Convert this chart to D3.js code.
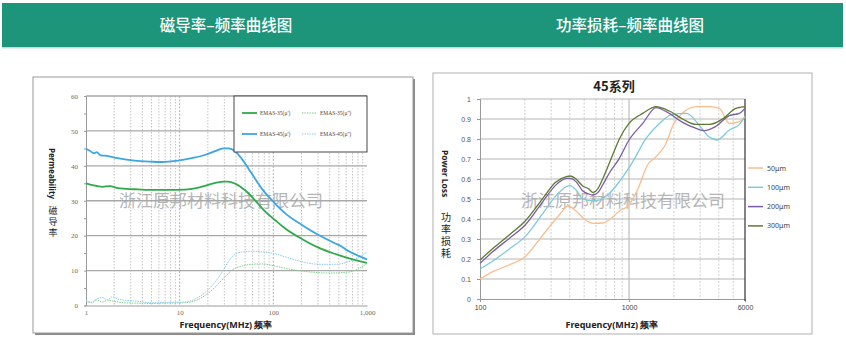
<!DOCTYPE html>
<html><head><meta charset="utf-8">
<script src="https://cdn.jsdelivr.net/npm/d3@7/dist/d3.min.js"></script>
<style>
html,body{margin:0;padding:0;background:#fff;}
svg{display:block;font-family:"Noto Sans","DejaVu Sans",sans-serif;}
</style></head>
<body>
<svg id="c" width="846" height="339"></svg>
<script>
// ---------- DATA: permeability chart ----------
const leftTitle = "磁导率–频率曲线图";
const rightTitle = "功率损耗–频率曲线图";
const watermark = "浙江原邦材料科技有限公司";

const permYTicks = [0,10,20,30,40,50,60];
const permXTicks = [1,10,100,1000];
const permSeriesNames = ["EMAS-35(μ')","EMAS-35(μ'')","EMAS-45(μ')","EMAS-45(μ'')"];

const emas45ReFreq = [1,1.1,1.22,1.3,1.44,1.6,2.17,3.28,4.96,6.36,9.6,13.4,18.6,23.8,29.3,33.1,39.1,46.1,59,75.7,96.9,135,204,308,465,520,596,703,1000];
const emas45Re     = [44.9,44.3,43.6,43.9,43.0,42.9,42.2,41.5,41.2,41.1,41.5,42.2,43.1,44.2,45.0,45.0,44.2,42.0,37.7,33.4,30.1,26.3,23.0,20.1,17.7,17.1,16.0,15.0,13.2];

const emas35ReFreq = [1,1.2,1.5,1.8,2.2,3.3,5,7.5,11.3,15,21,29.3,33.1,39.1,50,64,81,105,135,204,308,465,703,1000];
const emas35Re     = [35.0,34.4,34.0,34.2,33.6,33.3,33.1,33.1,33.2,33.6,34.7,35.5,35.5,34.9,33.0,30.1,27.0,24.4,22.0,19.0,16.5,14.7,13.2,12.2];

const emas35ImFreq = [1,1.15,1.3,1.5,1.7,2,2.5,3.3,5,7.5,11.3,15,19,24,30,36,46,59,78,100,150,250,400,600,800,1000];
const emas35Im     = [1.2,0.8,1.6,1.0,1.5,1.2,0.8,0.7,0.6,0.7,0.8,1.5,3.0,5.3,8.0,10.1,11.3,11.8,11.9,11.4,10.4,9.6,9.3,9.5,10.4,12.0];

const emas45ImFreq = [1,1.15,1.3,1.5,1.7,1.9,2.2,2.6,3.3,5,7.5,11.3,15,19,24,30,36,46,59,76,97,135,204,308,465,703,1000];
const emas45Im     = [1.4,1.0,1.9,2.3,1.6,2.5,1.8,1.5,1.3,0.8,0.9,1.0,2.0,3.9,6.8,10.6,13.9,15.3,15.5,15.4,15.0,13.9,12.5,11.8,11.8,13.0,15.3];

// ---------- DATA: power loss chart ----------
const lossTitle = "45系列";
const lossYTicks = [0,0.1,0.2,0.3,0.4,0.5,0.6,0.7,0.8,0.9,1];
const lossXTicks = [100,1000,6000];
const lossSeriesNames = ["50μm","100μm","200μm","300μm"];

const loss300Freq = [100,122,157,201,264,320,380,402,441,489,538,570,620,665,738,806,861,1000,1236,1518,1862,2289,2818,3460,4300,5200,6000];
const loss300     = [0.195,0.253,0.32,0.39,0.503,0.583,0.612,0.615,0.60,0.565,0.55,0.533,0.553,0.60,0.68,0.75,0.80,0.878,0.928,0.962,0.94,0.90,0.873,0.873,0.903,0.953,0.962];

const loss200Freq = [100,122,157,201,264,320,380,402,441,489,538,570,620,665,738,861,1000,1236,1518,1862,2289,2818,3200,3800,4710,5500,6000];
const loss200     = [0.178,0.237,0.303,0.37,0.487,0.567,0.603,0.603,0.587,0.54,0.525,0.52,0.533,0.57,0.63,0.703,0.795,0.878,0.957,0.928,0.883,0.853,0.842,0.862,0.917,0.928,0.953];

const loss100Freq = [100,122,157,201,264,320,380,402,441,489,580,738,861,1060,1300,1600,1950,2430,2950,3420,3900,4710,5500,6000];
const loss100     = [0.15,0.19,0.25,0.312,0.428,0.512,0.562,0.567,0.545,0.50,0.49,0.528,0.587,0.687,0.803,0.878,0.923,0.928,0.87,0.812,0.795,0.845,0.873,0.912];

const loss50Freq = [100,122,157,201,264,340,390,441,510,580,665,760,861,1000,1150,1330,1520,1750,2000,2290,2820,3460,4040,4710,5500,6000];
const loss50     = [0.10,0.137,0.17,0.212,0.32,0.42,0.465,0.44,0.395,0.378,0.38,0.403,0.44,0.47,0.553,0.67,0.712,0.77,0.878,0.93,0.962,0.962,0.953,0.878,0.887,0.912];

// ---------- DRAW ----------
const svg = d3.select("#c");

// header band
svg.append("rect").attr("x",2).attr("y",3).attr("width",841).attr("height",44).attr("fill","#1d957b");
svg.append("rect").attr("x",2).attr("y",47).attr("width",841).attr("height",1.5).attr("fill","#b9e0d4");
svg.append("text").attr("x",226).attr("y",31).attr("text-anchor","middle")
  .attr("fill","#fff").attr("font-size",15.5).attr("font-family","'Noto Sans CJK SC',sans-serif").attr("font-weight",500).text(leftTitle);
svg.append("text").attr("x",630).attr("y",31).attr("text-anchor","middle")
  .attr("fill","#fff").attr("font-size",15.5).attr("font-family","'Noto Sans CJK SC',sans-serif").attr("font-weight",500).text(rightTitle);

// ===== LEFT PANEL =====
svg.append("rect").attr("x",35).attr("y",79).attr("width",380).attr("height",256).attr("fill","#8a8a8a");
svg.append("rect").attr("x",33).attr("y",77).attr("width",380).attr("height",256).attr("fill","#fff").attr("stroke","#9a9a9a").attr("stroke-width",1);

const xL = d3.scaleLog().domain([1,1000]).range([86,367]);
const yL = d3.scaleLinear().domain([0,60]).range([305.5,96]);
const gL = svg.append("g");

// vertical grid (minor + major)
const minorL = [];
for (let d=1; d<1000; d*=10) for (let k=2;k<=9;k++) minorL.push(d*k);
gL.selectAll(".vminL").data(minorL).join("line")
  .attr("x1",d=>xL(d)).attr("x2",d=>xL(d)).attr("y1",yL(60)).attr("y2",yL(0))
  .attr("stroke","#b5b5b5").attr("stroke-width",0.8).attr("stroke-dasharray","1.5,1.5");
gL.selectAll(".vmajL").data([10,100]).join("line")
  .attr("x1",d=>xL(d)).attr("x2",d=>xL(d)).attr("y1",yL(60)).attr("y2",yL(0))
  .attr("stroke","#a8a8a8").attr("stroke-width",0.9).attr("stroke-dasharray","2,1.5");
// horizontal grid
gL.selectAll(".hL").data(permYTicks.filter(d=>d>0)).join("line")
  .attr("x1",xL(1)).attr("x2",xL(1000)).attr("y1",d=>yL(d)).attr("y2",d=>yL(d))
  .attr("stroke","#a9a9a9").attr("stroke-width",1.4);

// axes
const axLeftL = d3.axisLeft(yL).tickValues(d3.range(0,61,5)).tickSize(2).tickFormat(d=>d%10===0?d:"");
const gyL = gL.append("g").attr("transform",`translate(${xL(1)},0)`).call(axLeftL);
gyL.select(".domain").attr("stroke","#9a9a9a");
gyL.selectAll(".tick line").attr("stroke","#9a9a9a");
gyL.selectAll("text").attr("font-size",7).attr("fill","#7a6656").attr("font-family","'Liberation Serif',serif").attr("dx",-3);
const axBotL = d3.axisBottom(xL).tickValues(permXTicks).tickSize(0).tickFormat(d3.format(","));
const gxL = gL.append("g").attr("transform",`translate(0,${yL(0)})`).call(axBotL);
gxL.select(".domain").attr("stroke","#9a9a9a");
gxL.selectAll("text").attr("font-size",7).attr("fill","#7a6656").attr("font-family","'Liberation Serif',serif").attr("dy",6);

// watermark
gL.append("text").attr("x",221).attr("y",207).attr("text-anchor","middle")
  .attr("font-size",17).attr("fill","#a8a8a8").attr("fill-opacity",0.85)
  .attr("font-family","'Noto Sans CJK SC',sans-serif").text(watermark);

const lineL = (fx,fy) => d3.line().x((d,i)=>xL(fx[i])).y(d=>yL(d)).curve(d3.curveMonotoneX);
const permSeries = [
  {f:emas35ImFreq, v:emas35Im, c:"#7fcf86", w:1, dash:"1.5,1"},
  {f:emas45ImFreq, v:emas45Im, c:"#86cdf0", w:1, dash:"1.5,1"},
  {f:emas35ReFreq, v:emas35Re, c:"#2faa4b", w:1.8, dash:null},
  {f:emas45ReFreq, v:emas45Re, c:"#3aa6e2", w:1.8, dash:null}
];
permSeries.forEach(s=>{
  gL.append("path").datum(s.v).attr("d",lineL(s.f,s.v)).attr("fill","none")
    .attr("stroke",s.c).attr("stroke-width",s.w).attr("stroke-dasharray",s.dash);
});

// legend
gL.append("rect").attr("x",234).attr("y",96).attr("width",133).attr("height",56)
  .attr("fill","#fff").attr("stroke","#333").attr("stroke-width",0.9);
const legL = [
  {n:permSeriesNames[0], c:"#2faa4b", w:1.8, dash:null, x:242, y:113},
  {n:permSeriesNames[1], c:"#7fcf86", w:1, dash:"1.5,1", x:302, y:113},
  {n:permSeriesNames[2], c:"#3aa6e2", w:1.8, dash:null, x:242, y:134},
  {n:permSeriesNames[3], c:"#86cdf0", w:1, dash:"1.5,1", x:302, y:134}
];
legL.forEach(l=>{
  gL.append("line").attr("x1",l.x).attr("x2",l.x+15).attr("y1",l.y).attr("y2",l.y)
    .attr("stroke",l.c).attr("stroke-width",l.w).attr("stroke-dasharray",l.dash);
  gL.append("text").attr("x",l.x+18).attr("y",l.y+2).attr("font-size",5.5)
    .attr("fill","#444").attr("font-family","'Liberation Serif',serif").text(l.n);
});

// axis titles
gL.append("text").attr("transform","translate(49,148) rotate(90)")
  .attr("font-size",8).attr("font-weight","bold").attr("fill","#222").text("Permeability");
gL.append("text").attr("x",53).attr("y",206)
  .attr("writing-mode","vertical-rl").attr("letter-spacing",2)
  .attr("font-size",9).attr("fill","#222").attr("font-family","'Noto Sans CJK SC',sans-serif").text("磁导率");
gL.append("text").attr("x",226).attr("y",328).attr("text-anchor","middle")
  .attr("font-size",9).attr("font-weight","bold").attr("fill","#222").text("Frequency(MHz) 频率");

// ===== RIGHT PANEL =====
svg.append("rect").attr("x",433).attr("y",73).attr("width",379).attr("height",261)
  .attr("fill","#fff").attr("stroke","#b0b0b0").attr("stroke-width",1);

const xR = d3.scaleLog().domain([100,6000]).range([480,745]);
const yR = d3.scaleLinear().domain([0,1]).range([299,99]);
const gR = svg.append("g");

const minorR = [200,300,400,500,600,700,800,900,2000,3000,4000,5000];
gR.selectAll(".vR").data(minorR).join("line")
  .attr("x1",d=>xR(d)).attr("x2",d=>xR(d)).attr("y1",yR(1)).attr("y2",yR(0))
  .attr("stroke","#c4c4c4").attr("stroke-width",0.8).attr("stroke-dasharray","2,1.5");
gR.append("line").attr("x1",xR(1000)).attr("x2",xR(1000)).attr("y1",yR(1)).attr("y2",yR(0))
  .attr("stroke","#b0b0b0").attr("stroke-width",1);
gR.selectAll(".hR").data(lossYTicks.filter(d=>d>0)).join("line")
  .attr("x1",xR(100)).attr("x2",xR(6000)).attr("y1",d=>yR(d)).attr("y2",d=>yR(d))
  .attr("stroke","#b5b5b5").attr("stroke-width",1.1);

const gyR = gR.append("g").attr("transform",`translate(${xR(100)},0)`)
  .call(d3.axisLeft(yR).tickValues(lossYTicks).tickSize(3).tickFormat(d=>d===0?"0":d===1?"1":d3.format(".1f")(d)));
gyR.select(".domain").attr("stroke","#999");
gyR.selectAll(".tick line").attr("stroke","#999");
gyR.selectAll("text").attr("font-size",7).attr("fill","#555").attr("dx",-3);
const gxR = gR.append("g").attr("transform",`translate(0,${yR(0)})`)
  .call(d3.axisBottom(xR).tickValues(lossXTicks).tickSize(3).tickFormat(d=>d));
gxR.select(".domain").attr("stroke","#999");
gxR.selectAll(".tick line").attr("stroke","#999");
gxR.selectAll("text").attr("font-size",7).attr("fill","#444").attr("dy",5);
gR.append("line").attr("x1",xR(6000)).attr("x2",xR(6000)).attr("y1",yR(1)).attr("y2",yR(0)+2)
  .attr("stroke","#333").attr("stroke-width",1.2);

gR.append("text").attr("x",623).attr("y",207).attr("text-anchor","middle")
  .attr("font-size",17).attr("fill","#a8a8a8").attr("fill-opacity",0.85)
  .attr("font-family","'Noto Sans CJK SC',sans-serif").text(watermark);

const lossSeries = [
  {f:loss50Freq, v:loss50, c:"#f9bd8e"},
  {f:loss100Freq, v:loss100, c:"#7ec9dd"},
  {f:loss200Freq, v:loss200, c:"#7a5ca6"},
  {f:loss300Freq, v:loss300, c:"#5d7a32"}
];
lossSeries.forEach(s=>{
  gR.append("path").datum(s.v)
    .attr("d",d3.line().x((d,i)=>xR(s.f[i])).y(d=>yR(d)).curve(d3.curveMonotoneX))
    .attr("fill","none").attr("stroke",s.c).attr("stroke-width",1.3);
});

gR.append("text").attr("x",614).attr("y",91).attr("text-anchor","middle")
  .attr("font-size",13).attr("font-weight","bold").attr("fill","#222")
  .attr("font-family","'Noto Sans CJK SC',sans-serif").text(lossTitle);

lossSeries.forEach((s,i)=>{
  const y = 168 + i*19.3;
  gR.append("line").attr("x1",748).attr("x2",763).attr("y1",y).attr("y2",y).attr("stroke",s.c).attr("stroke-width",1.5);
  gR.append("text").attr("x",767).attr("y",y+2.5).attr("font-size",7).attr("fill","#444").text(lossSeriesNames[i]);
});

gR.append("text").attr("transform","translate(442,150) rotate(90)")
  .attr("font-size",8.5).attr("font-weight","bold").attr("fill","#222").text("Power Loss");
gR.append("text").attr("x",446).attr("y",212)
  .attr("writing-mode","vertical-rl").attr("letter-spacing",2)
  .attr("font-size",10).attr("fill","#222").attr("font-family","'Noto Sans CJK SC',sans-serif").text("功率损耗");
gR.append("text").attr("x",612).attr("y",328).attr("text-anchor","middle")
  .attr("font-size",9).attr("font-weight","bold").attr("fill","#222").text("Frequency(MHz) 频率");
</script>
</body></html>
